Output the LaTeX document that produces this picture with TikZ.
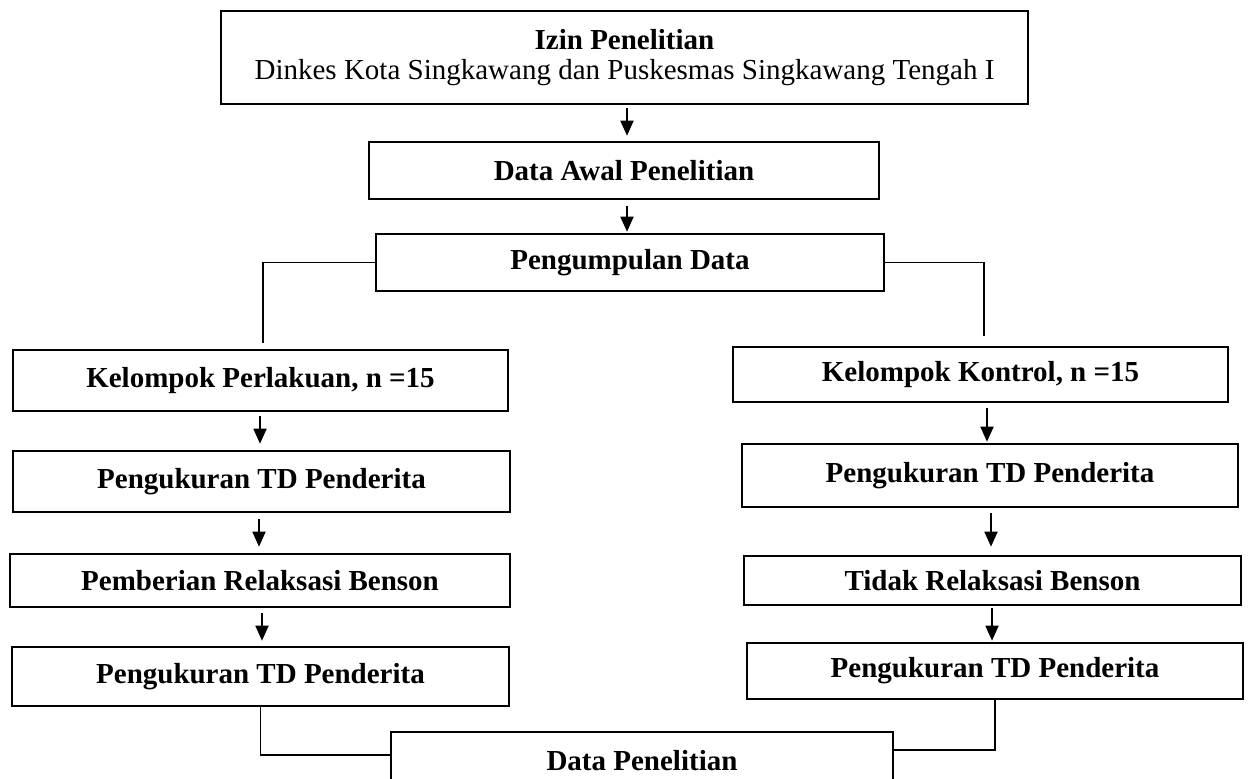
\documentclass[tikz,border=0pt]{standalone}
\usepackage{fontspec}
\setmainfont{Liberation Serif}
\usetikzlibrary{arrows.meta,calc}
\begin{document}
\begin{tikzpicture}[x=1pt,y=-1pt,
  box/.style={draw,line width=2.6pt,inner sep=0pt,font=\fontsize{29}{30}\selectfont\bfseries,align=center},
  arr/.style={line width=1.8pt,-{Triangle[length=15pt,width=13pt]}},
  link/.style={line width=1.8pt}]
\useasboundingbox (0,0) rectangle (1248,779);
\fill[white] (0,0) rectangle (1248,779);
% top chain
\node[box,minimum width=807pt,minimum height=93pt] (izin) at (624.5,57.5)
  {Izin Penelitian\\{\mdseries Dinkes Kota Singkawang dan Puskesmas Singkawang Tengah I}};
\node[box,minimum width=510pt,minimum height=57pt] (awal) at (624,170.5) {Data Awal Penelitian};
\node[box,minimum width=508pt,minimum height=57pt] (kumpul) at (630,262.5) {Pengumpulan Data};
% left column
\node[box,minimum width=495pt,minimum height=61pt] (L1) at (260.5,380.5) {Kelompok Perlakuan, n =15};
\node[box,minimum width=497pt,minimum height=61pt] (L2) at (261.5,481.5) {Pengukuran TD Penderita};
\node[box,minimum width=500pt,minimum height=53pt] (L3) at (260,580.5) {Pemberian Relaksasi Benson};
\node[box,minimum width=497pt,minimum height=59pt] (L4) at (260.5,676.5) {Pengukuran TD Penderita};
% right column
\node[box,minimum width=495pt,minimum height=55pt] (R1) at (980.5,374.5) {Kelompok Kontrol, n =15};
\node[box,minimum width=496pt,minimum height=63pt] (R2) at (990,475.5) {Pengukuran TD Penderita};
\node[box,minimum width=497pt,minimum height=49pt] (R3) at (992.5,580.5) {Tidak Relaksasi Benson};
\node[box,minimum width=496pt,minimum height=56pt] (R4) at (995,671) {Pengukuran TD Penderita};
% bottom
\node[box,minimum width=502pt,minimum height=58pt] (data) at (642,761) {Data Penelitian};
% connectors
\draw[arr] ($(izin.south)+(2.5,3)$) -- ($(awal.north)+(3,-5)$);
\draw[arr] ($(awal.south)+(3,6)$) -- ($(kumpul.north)+(-3,-1)$);
\coordinate (lk) at (263,343);
\coordinate (rk) at (984,336);
\draw[link] (kumpul.west) -| (lk);
\draw[link] (kumpul.east) -| (rk);
\draw[arr] ($(L1.south)+(-0.5,4)$) -- ($(L2.north)+(-1.5,-6)$);
\draw[arr] ($(L2.south)+(-2.5,6)$) -- ($(L3.north)+(-1,-6)$);
\draw[arr] ($(L3.south)+(2,5)$) -- ($(L4.north)+(1.5,-5)$);
\draw[arr] ($(R1.south)+(6.5,5)$) -- ($(R2.north)+(-3,-1)$);
\draw[arr] ($(R2.south)+(1,5)$) -- ($(R3.north)+(-1.5,-8)$);
\draw[arr] ($(R3.south)+(-0.5,2)$) -- ($(R4.north)+(-3,-1)$);
\draw[link] (L4.south) |- ($(data.west)+(0,-6)$);
\draw[link] (R4.south) |- ($(data.east)+(0,-11)$);
\end{tikzpicture}
\end{document}
